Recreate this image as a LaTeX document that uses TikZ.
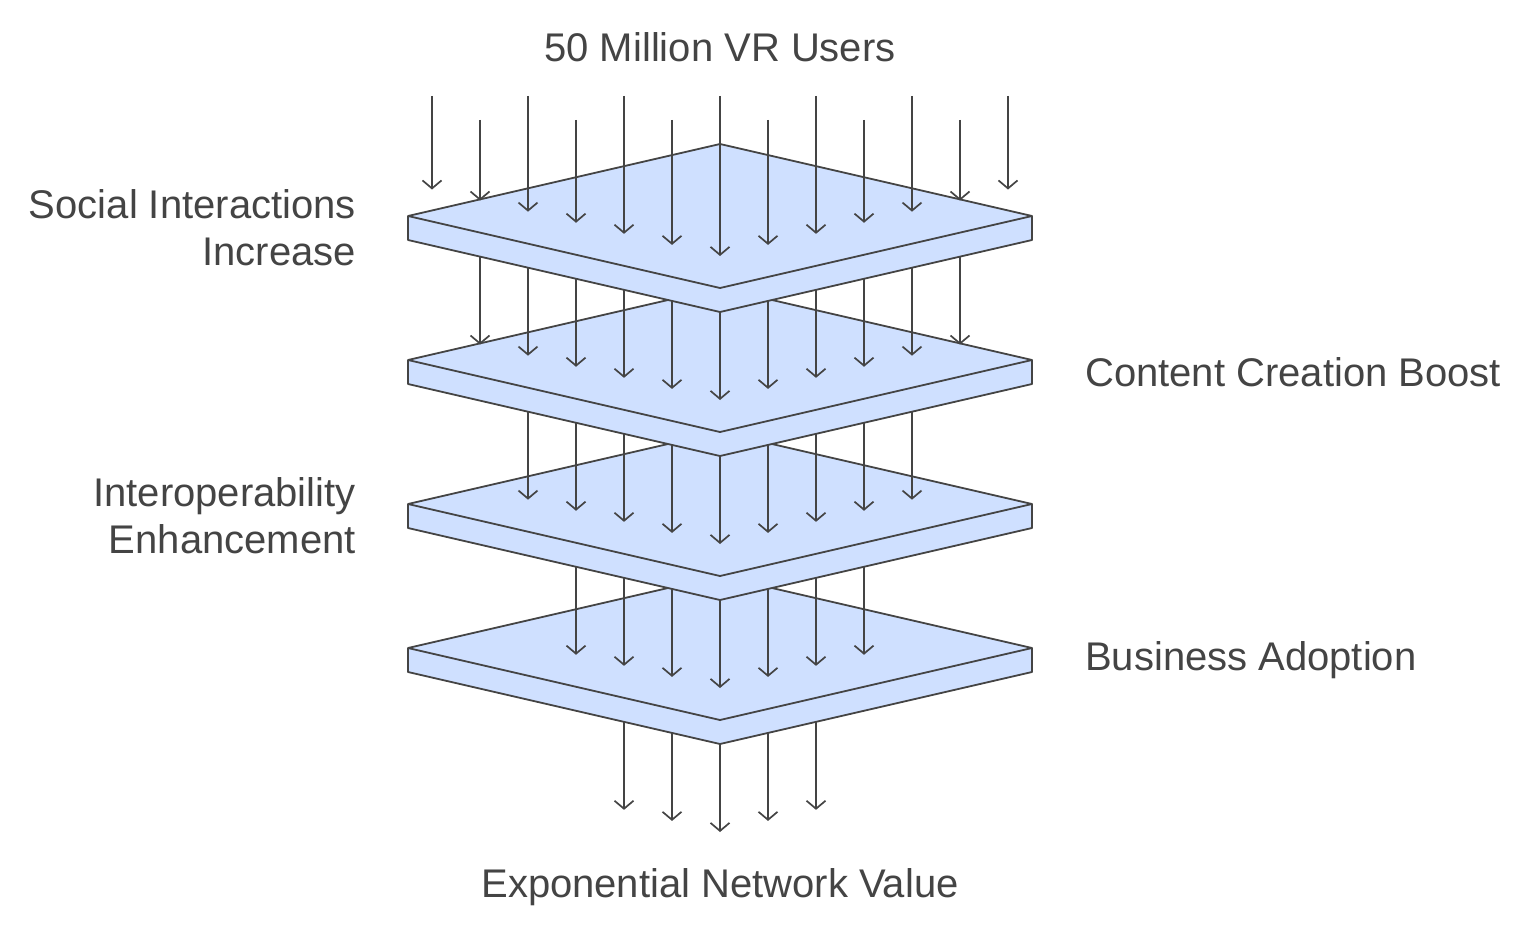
\documentclass[tikz,border=0pt]{standalone}
\usepackage{fontspec}
\setmainfont{Liberation Sans}
\usetikzlibrary{arrows.meta}
\definecolor{ink}{RGB}{68,68,68}
\definecolor{slabfill}{RGB}{207,224,255}
\tikzset{
  slab/.style={fill=slabfill, draw=ink, line width=1.8pt, line join=round},
  edge/.style={draw=ink, line width=1.8pt, line join=round},
  arr/.style={draw=ink, line width=1.7pt, -{Straight Barb[length=8pt,width=19pt]}},
  lbl/.style={text=ink, font=\fontsize{40}{47}\selectfont, inner sep=0pt},
}
\newcommand\drawslab[1]{%
  \filldraw[slab] (720,#1-72) -- (1032,#1) -- (1032,#1+24) -- (720,#1+96) -- (408,#1+24) -- (408,#1) -- cycle;
  \draw[edge] (408,#1) -- (720,#1+72) -- (1032,#1);
}
% #1 = left-vertex y of target slab, #2 = arrows per side, #3 = 1 for top (visible start)
\newcommand\arrowsinto[3]{%
  \foreach \i in {-#2,...,#2}{%
    \pgfmathsetmacro\xx{720+48*\i}%
    \pgfmathsetmacro\ty{#1+40-11.0769*abs(\i)}%
    \pgfmathsetmacro\sy{ifthenelse(#3==1, ifthenelse(mod(abs(\i),2)==0,96,120), #1-144)}%
    \draw[arr] (\xx,\sy) -- (\xx,\ty);
  }%
}
\begin{document}
\begin{tikzpicture}[x=1pt,y=-1pt]
\useasboundingbox (0,0) rectangle (1536,936);
% bottom output arrows
\arrowsinto{792}{2}{0}
\drawslab{648}
\arrowsinto{648}{3}{0}
\drawslab{504}
\arrowsinto{504}{4}{0}
\drawslab{360}
\arrowsinto{360}{5}{0}
\drawslab{216}
\arrowsinto{216}{6}{1}
% labels
\node[lbl] (users) at (720,47) {50 Million VR Users};
\node[lbl, anchor=east, align=right] (social) at (356,228) {Social Interactions\\Increase};
\node[lbl, anchor=west] (content) at (1085,372) {Content Creation Boost};
\node[lbl, anchor=east, align=right] (interop) at (356,516) {Interoperability\\Enhancement};
\node[lbl, anchor=west] (business) at (1085,660) {Business Adoption};
\node[lbl] (value) at (720,887) {Exponential Network Value};
\end{tikzpicture}
\end{document}
